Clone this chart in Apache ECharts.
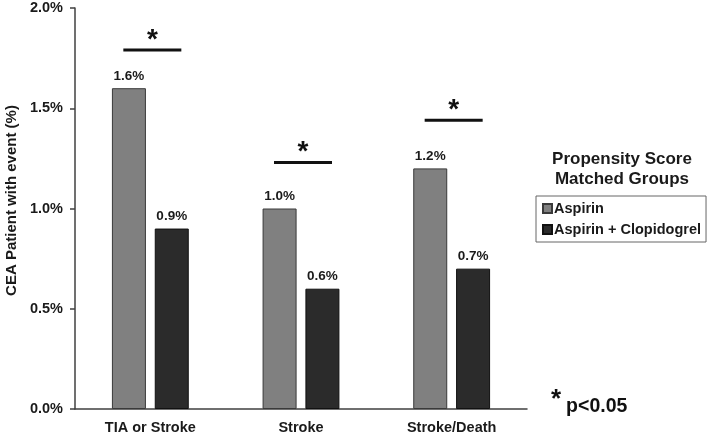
<!DOCTYPE html>
<html><head><meta charset="utf-8">
<script src="https://cdn.jsdelivr.net/npm/echarts@6/dist/echarts.min.js"></script>
<style>html,body{margin:0;padding:0;background:#fff}#c{width:710px;height:435px}</style>
</head><body><div id="c"></div>
<script>
const categories = ['TIA or Stroke', 'Stroke', 'Stroke/Death'];
const aspirin = [1.6, 1.0, 1.2];
const aspirinClopidogrel = [0.9, 0.6, 0.7];
const sigLevels = [1.79, 1.23, 1.44];
const yTicks = [0, 0.5, 1.0, 1.5, 2.0];

const chart = echarts.init(document.getElementById('c'));
const font = 'Liberation Sans, Arial, sans-serif';
const labelStyle = {show: true, position: 'top', distance: 5, fontFamily: font, fontWeight: 'bold', fontSize: 13.5, color: '#1a1a1a', formatter: p => p.value.toFixed(1) + '%'};

chart.setOption({
  animation: false,
  textStyle: {fontFamily: font},
  grid: {left: 75, right: 183, top: 8, bottom: 26, containLabel: false, outerBoundsMode: 'none'},
  title: [
    {text: 'Propensity Score\nMatched Groups', left: 617, top: 144, textAlign: 'center',
     textStyle: {fontFamily: font, fontWeight: 'bold', fontSize: 17, color: '#1a1a1a', lineHeight: 20, align: 'center'}},
    {text: '{a|*} {b|p<0.05}', left: 546, top: 382,
     textStyle: {rich: {a: {fontFamily: font, fontWeight: 'bold', fontSize: 26, color: '#111', verticalAlign: 'top'},
                        b: {fontFamily: font, fontWeight: 'bold', fontSize: 19.5, color: '#111', padding: [10,0,0,0]}}}}
  ],
  legend: {
    left: 536, top: 196, orient: 'vertical', itemWidth: 9, itemHeight: 9, itemGap: 6,
    borderColor: '#666', borderWidth: 1, padding: [5, 5, 5, 6],
    icon: 'rect',
    textStyle: {fontFamily: font, fontWeight: 'bold', fontSize: 14.5, color: '#1a1a1a', padding: [0,0,0,-3]},
    data: ['Aspirin', 'Aspirin + Clopidogrel']
  },
  xAxis: {
    type: 'category', data: categories,
    axisLine: {lineStyle: {color: '#404040', width: 1.5}},
    axisTick: {show: false},
    axisLabel: {fontFamily: font, fontWeight: 'bold', fontSize: 14.5, color: '#1a1a1a', margin: 11}
  },
  yAxis: {
    type: 'value', min: 0, max: 2.0, interval: 0.5,
    name: 'CEA Patient with event (%)', nameLocation: 'middle', nameGap: 56, nameRotate: 90,
    nameTextStyle: {fontFamily: font, fontWeight: 'bold', fontSize: 15, color: '#1a1a1a', padding: [0,0,0,16]},
    axisLine: {show: true, lineStyle: {color: '#404040', width: 1.5}},
    axisTick: {show: true, length: 5, lineStyle: {color: '#404040', width: 1.5}},
    splitLine: {show: false},
    axisLabel: {fontFamily: font, fontWeight: 'bold', fontSize: 14.5, color: '#1a1a1a', margin: 12,
      formatter: v => yTicks.includes(v) ? v.toFixed(1) + '%' : ''}
  },
  series: [
    {name: 'Aspirin', type: 'bar', data: aspirin, barWidth: 34, barGap: '26%',
     itemStyle: {color: '#808080', borderColor: '#3a3a3a', borderWidth: 1}, label: labelStyle},
    {name: 'Aspirin + Clopidogrel', type: 'bar', data: aspirinClopidogrel, barWidth: 34,
     itemStyle: {color: '#2b2b2b', borderColor: '#111', borderWidth: 1}, label: labelStyle},
    {type: 'custom', name: 'sig', data: sigLevels.map((v, i) => [i, v]), silent: true, z: 5,
     renderItem: (params, api) => {
       const p = api.coord([api.value(0), api.value(1)]);
       const cx = p[0] + 2, y = p[1];
       return {type: 'group', children: [
         {type: 'line', shape: {x1: cx - 29, y1: y, x2: cx + 29, y2: y}, style: {stroke: '#111', lineWidth: 3}},
         {type: 'text', style: {text: '*', x: cx, y: y + 4, align: 'center', verticalAlign: 'bottom',
            font: 'bold 28px ' + font, fill: '#111'}}
       ]};
     }}
  ]
});
</script></body></html>
